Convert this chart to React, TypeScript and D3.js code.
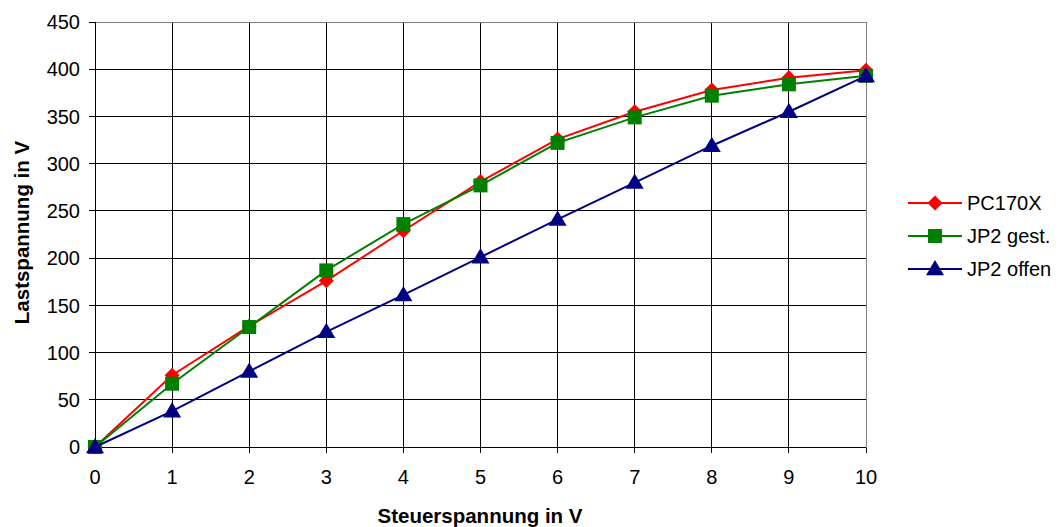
import React from 'react';
import * as d3 from 'd3';

const xValues = [0, 1, 2, 3, 4, 5, 6, 7, 8, 9, 10];
const pc170x = [0, 76, 128, 176, 229, 281, 326, 355, 378, 391, 399];
const jp2Gest = [0, 67, 127, 187, 236, 277, 322, 349, 372, 384, 393];
const jp2Offen = [0, 38, 80, 122, 161, 201, 241, 280, 319, 355, 393];
const yTicks = [0, 50, 100, 150, 200, 250, 300, 350, 400, 450];

const series = [
  { name: 'PC170X', values: pc170x, color: '#FF0000', marker: 'diamond' },
  { name: 'JP2 gest.', values: jp2Gest, color: '#008000', marker: 'square' },
  { name: 'JP2 offen', values: jp2Offen, color: '#000080', marker: 'triangle' },
];

const W = 1060;
const H = 527;
const left = 95;
const right = 866;
const top = 22;
const bottom = 447;
const font = 'Arial, "Liberation Sans", sans-serif';

function Marker({ type, x, y, color }: { type: string; x: number; y: number; color: string }) {
  if (type === 'diamond') {
    const s = 7.5;
    return <path d={`M${x},${y - s}L${x + s},${y}L${x},${y + s}L${x - s},${y}Z`} fill={color} />;
  }
  if (type === 'square') {
    const s = 7;
    return <rect x={x - s} y={y - s} width={2 * s} height={2 * s} fill={color} />;
  }
  const s = 9;
  return <path d={`M${x},${y - s}L${x + s},${y + s * 0.7}L${x - s},${y + s * 0.7}Z`} fill={color} />;
}

export default function App() {
  const x = d3.scaleLinear().domain([0, 10]).range([left, right]);
  const y = d3.scaleLinear().domain([0, 450]).range([bottom, top]);
  const line = d3.line<number>().x((_, i) => x(xValues[i])).y(d => y(d));

  return (
    <svg width={W} height={H} style={{ position: 'absolute', left: 0, top: 0 }} fontFamily={font}>
      <rect width={W} height={H} fill="#fff" />
      {/* grid */}
      {yTicks.map(t => (
        <line key={'h' + t} x1={left - 6} x2={right} y1={y(t)} y2={y(t)} stroke="#000" strokeWidth={1} shapeRendering="crispEdges" />
      ))}
      {xValues.map(t => (
        <line key={'v' + t} x1={x(t)} x2={x(t)} y1={top} y2={bottom + 6} stroke="#000" strokeWidth={1} shapeRendering="crispEdges" />
      ))}
      <rect x={left} y={top} width={right - left} height={bottom - top} fill="none" stroke="#808080" strokeWidth={1} shapeRendering="crispEdges" />
      <line x1={left} x2={left} y1={top} y2={bottom + 6} stroke="#000" shapeRendering="crispEdges" />
      <line x1={left - 6} x2={right} y1={bottom} y2={bottom} stroke="#000" shapeRendering="crispEdges" />
      {/* tick labels */}
      {yTicks.map(t => (
        <text key={'yl' + t} x={left - 15} y={y(t)} dy="0.36em" textAnchor="end" fontSize={20} fill="#000">{t}</text>
      ))}
      {xValues.map(t => (
        <text key={'xl' + t} x={x(t)} y={484} textAnchor="middle" fontSize={20} fill="#000">{t}</text>
      ))}
      {/* axis titles */}
      <text x={480} y={523} textAnchor="middle" fontSize={20.5} fontWeight="bold">Steuerspannung in V</text>
      <text transform={`translate(29,232.5) rotate(-90)`} textAnchor="middle" fontSize={20.5} fontWeight="bold">Lastspannung in V</text>
      {/* series */}
      {series.map(s => (
        <g key={s.name}>
          <path d={line(s.values) || ''} fill="none" stroke={s.color} strokeWidth={2} />
          {s.values.map((v, i) => (
            <Marker key={i} type={s.marker} x={x(xValues[i])} y={y(v)} color={s.color} />
          ))}
        </g>
      ))}
      {/* legend */}
      {series.map((s, i) => {
        const ly = 203 + i * 33;
        return (
          <g key={'lg' + s.name}>
            <line x1={908} x2={962} y1={ly} y2={ly} stroke={s.color} strokeWidth={2} />
            <Marker type={s.marker} x={935} y={ly} color={s.color} />
            <text x={967} y={ly} dy="0.36em" fontSize={20} fill="#000">{s.name}</text>
          </g>
        );
      })}
    </svg>
  );
}
